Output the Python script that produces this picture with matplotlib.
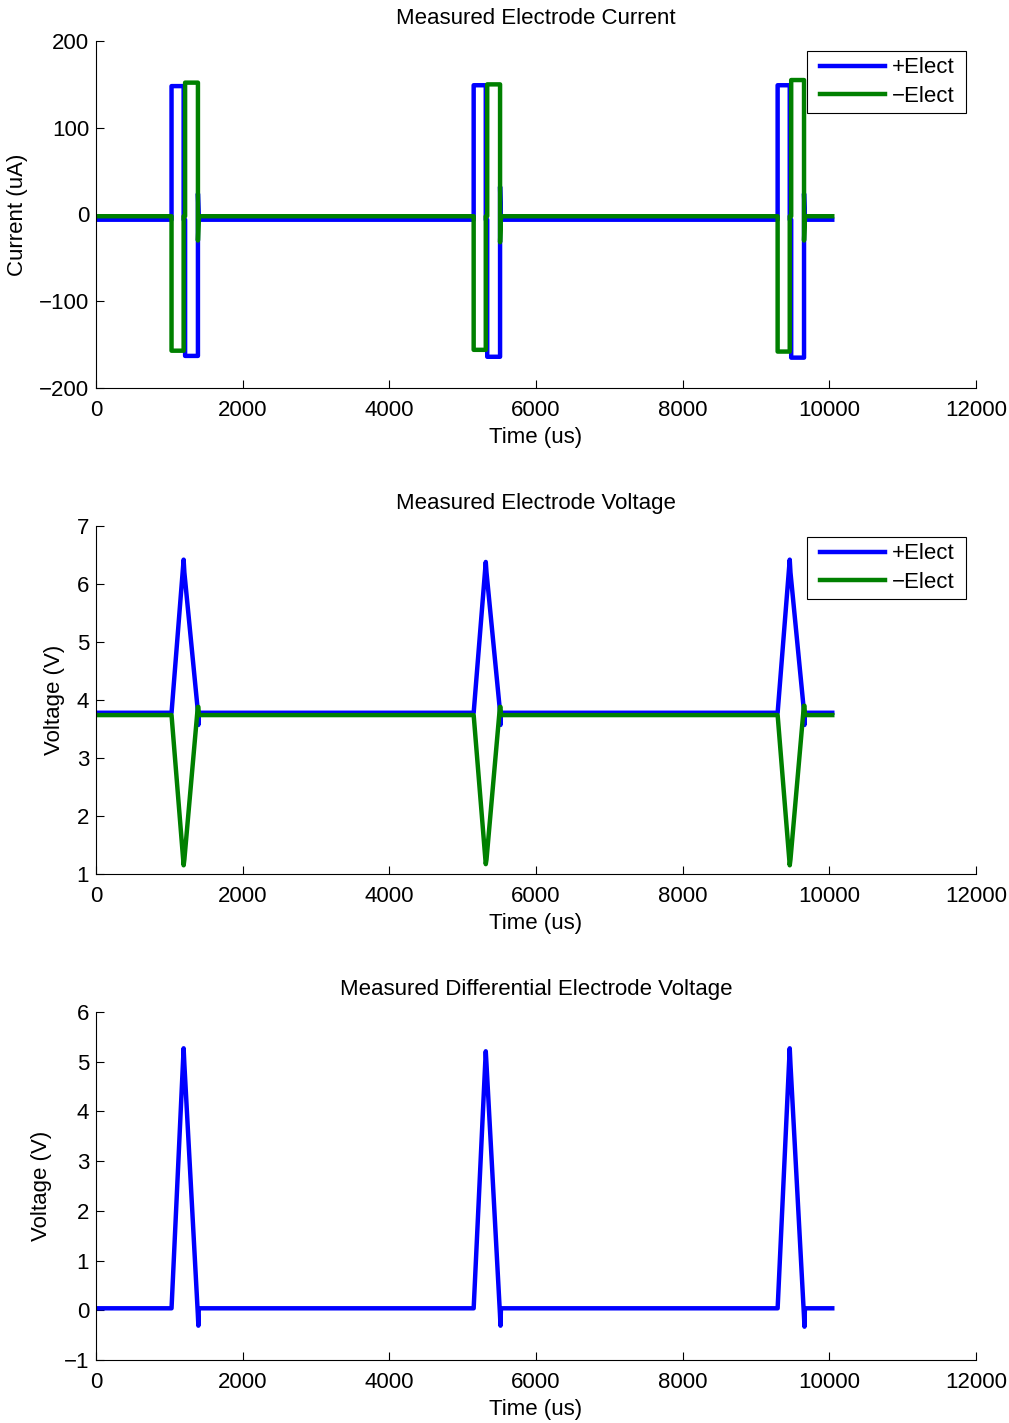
import numpy as np
import matplotlib
matplotlib.use("Agg")
import matplotlib.pyplot as plt
from matplotlib.legend_handler import HandlerLine2D

plt.rcParams["font.family"] = ["Liberation Sans", "DejaVu Sans"]
plt.rcParams["font.size"] = 16
plt.rcParams["axes.unicode_minus"] = True

# ---------------- recorded data (times in us) ----------------
record_start, record_end = 0, 10040
pulse_starts = [1030, 5150, 9295]

# electrode current breakpoints, relative to each pulse start
cur_offsets = [0, 0, 165, 165, 185, 185, 360, 360, 372]
plus_cur_base = -6
minus_cur_base = -2
plus_cur_phase1 = [148, 149, 149]
plus_cur_phase2 = [-163, -164, -165]
plus_cur_kick = [24, 32, 24]
minus_cur_phase1 = [-157, -156, -158]
minus_cur_phase2 = [152, 150, 155]
minus_cur_kick = [-30, -32, -30]

# electrode voltage breakpoints, relative to each pulse start
volt_offsets = [0, 165, 175, 358, 366, 372]
plus_volt_base = 3.78
minus_volt_base = 3.74
plus_volt_peak = [6.42, 6.38, 6.42]
plus_volt_interphase = [6.20, 6.20, 6.20]
plus_volt_end = [3.82, 3.82, 3.82]
plus_volt_dip = [3.57, 3.57, 3.57]
minus_volt_trough = [1.15, 1.17, 1.15]
minus_volt_interphase = [1.25, 1.25, 1.25]
minus_volt_end = [3.88, 3.88, 3.90]

xticks = [0, 2000, 4000, 6000, 8000, 10000, 12000]


def build_trace(offsets, levels, base):
    t, y = [record_start], [base]
    for start, lv in zip(pulse_starts, levels):
        t += [start + o for o in offsets]
        y += lv
    t.append(record_end)
    y.append(base)
    return np.array(t, float), np.array(y, float)


plus_cur_t, plus_cur = build_trace(
    cur_offsets,
    [[plus_cur_base, a, a, plus_cur_base, plus_cur_base, b, b, k, plus_cur_base]
     for a, b, k in zip(plus_cur_phase1, plus_cur_phase2, plus_cur_kick)],
    plus_cur_base)
minus_cur_t, minus_cur = build_trace(
    cur_offsets,
    [[minus_cur_base, a, a, minus_cur_base, minus_cur_base, b, b, k, minus_cur_base]
     for a, b, k in zip(minus_cur_phase1, minus_cur_phase2, minus_cur_kick)],
    minus_cur_base)
plus_volt_t, plus_volt = build_trace(
    volt_offsets,
    [[plus_volt_base, p, i, e, d, plus_volt_base]
     for p, i, e, d in zip(plus_volt_peak, plus_volt_interphase, plus_volt_end, plus_volt_dip)],
    plus_volt_base)
minus_volt_t, minus_volt = build_trace(
    volt_offsets,
    [[minus_volt_base, p, i, e, e, minus_volt_base]
     for p, i, e in zip(minus_volt_trough, minus_volt_interphase, minus_volt_end)],
    minus_volt_base)
diff_volt = plus_volt - minus_volt

# ---------------- figure ----------------
W, H = 1009, 1423
fig = plt.figure(figsize=(W / 100, H / 100), dpi=100)
fig.patch.set_facecolor("white")


def make_axes(top_px, bottom_px):
    left, right = 96, 976
    return fig.add_axes([left / W, 1 - bottom_px / H, (right - left) / W, (bottom_px - top_px) / H])


blue = (0, 0, 1)
green = (0, 0.5, 0)
lw = 3.2


def style(ax, ylim, yticks, title, ylabel):
    ax.set_xlim(0, 12000)
    ax.set_ylim(*ylim)
    ax.set_xticks(xticks)
    ax.set_yticks(yticks)
    for s in ("top", "right"):
        ax.spines[s].set_visible(False)
    for s in ("left", "bottom"):
        ax.spines[s].set_linewidth(0.8)
        ax.spines[s].set_color("black")
    ax.tick_params(direction="in", length=6, width=0.8, colors="black", labelsize=16)
    ax.tick_params(axis="x", pad=9)
    ax.tick_params(axis="y", pad=5)
    ax.set_title(title, fontsize=16, pad=12.5)
    ax.set_xlabel("Time (us)", fontsize=16, labelpad=4)
    ax.set_ylabel(ylabel, fontsize=16, labelpad=8)


def add_legend(ax, top_px, axes_top_px, axes_bottom_px):
    h = axes_bottom_px - axes_top_px
    y_top = (axes_bottom_px - top_px) / h
    x0 = (807 - 96) / 880
    w = 159 / 880
    leg = ax.legend(
        loc="upper left", bbox_to_anchor=(x0, y_top, w, 0), mode="expand",
        borderaxespad=0, borderpad=0.29, labelspacing=0.32,
        handlelength=(64 + 7) / 22.2, handletextpad=0.32,
        fancybox=False, framealpha=1, edgecolor="black", fontsize=16,
        handler_map={plt.Line2D: HandlerLine2D(xpad=7 / 22.2)})
    leg.get_frame().set_linewidth(0.8)


# current
ax1 = make_axes(41, 388)
ax1.plot(plus_cur_t, plus_cur, color=blue, lw=lw, label="+Elect")
ax1.plot(minus_cur_t, minus_cur, color=green, lw=lw, label="\u2212Elect")
style(ax1, (-200, 200), [-200, -100, 0, 100, 200], "Measured Electrode Current", "Current (uA)")
add_legend(ax1, 51, 41, 388)

# voltage
ax2 = make_axes(526, 874)
ax2.plot(plus_volt_t, plus_volt, color=blue, lw=lw, label="+Elect")
ax2.plot(minus_volt_t, minus_volt, color=green, lw=lw, label="\u2212Elect")
style(ax2, (1, 7), [1, 2, 3, 4, 5, 6, 7], "Measured Electrode Voltage", "Voltage (V)")
add_legend(ax2, 537, 526, 874)

# differential voltage
ax3 = make_axes(1012, 1360)
ax3.plot(plus_volt_t, diff_volt, color=blue, lw=lw)
style(ax3, (-1, 6), [-1, 0, 1, 2, 3, 4, 5, 6], "Measured Differential Electrode Voltage", "Voltage (V)")

fig.savefig("out.png", dpi=100, facecolor="white")
